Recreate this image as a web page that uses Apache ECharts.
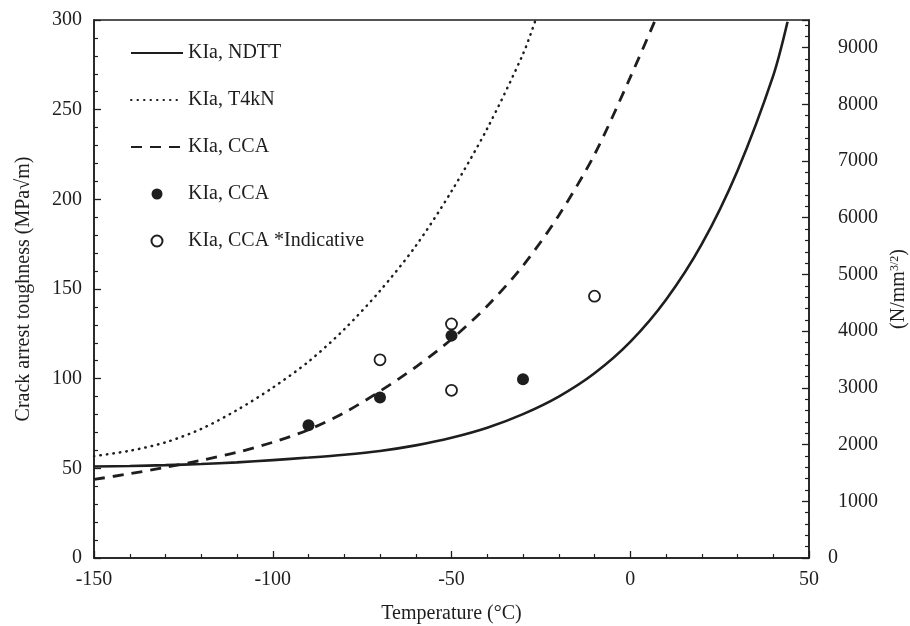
<!DOCTYPE html>
<html>
<head>
<meta charset="utf-8">
<script src="https://cdn.jsdelivr.net/npm/echarts@6/dist/echarts.min.js"></script>
<style>html,body{margin:0;padding:0;background:#fff}#c{width:910px;height:626px}</style>
</head>
<body>
<div id="c"></div>
<script>
// Temperature (°C) / KIa (MPa√m) readings from the reference
var ndtt = [[-150,51],[-140,51.3],[-130,51.8],[-120,52.4],[-110,53.3],[-100,54.6],[-90,56],[-80,57.6],[-70,59.7],[-60,62.8],[-50,67],[-40,72.6],[-30,80.2],[-20,90],[-10,103],[0,120.5],[10,144],[20,175],[30,216],[40,269],[44,299]];
var t4kn = [[-150,56.8],[-140,59.8],[-130,64.5],[-120,72],[-110,82.5],[-100,95],[-90,109.5],[-80,127.5],[-70,149],[-60,174],[-50,204.5],[-40,239.5],[-30,281],[-26.5,300]];
var ccaLine = [[-150,43.8],[-140,47],[-130,50.6],[-120,54.5],[-110,58.9],[-100,64.5],[-90,71.5],[-80,81],[-70,93],[-60,106.5],[-50,122],[-40,140.5],[-30,163],[-20,191],[-10,225],[0,268],[7,300]];
var ccaPts = [[-90,74],[-70,89.5],[-50,124],[-30,99.7]];
var ccaInd = [[-70,110.5],[-50,130.5],[-50,93.5],[-10,146]];
var legendLabels = {NDTT:'KIa, NDTT', T4kN:'KIa, T4kN', CCA_line:'KIa, CCA', CCA_pts:'KIa, CCA', CCA_ind:'KIa, CCA *Indicative'};
var FACTOR = 31.6228; // MPa√m -> N/mm^3/2

var font = 'Liberation Serif';
var ink = '#1e1e1e';
var chart = echarts.init(document.getElementById('c'), null, {renderer:'canvas'});
var axisCommon = {
  axisLine:{show:true, onZero:false, lineStyle:{color:ink, width:1.5}},
  axisTick:{show:true, inside:true, length:7, lineStyle:{color:ink, width:1.3}},
  minorTick:{show:true, splitNumber:5, length:4, lineStyle:{color:ink, width:1.2}},
  splitLine:{show:false},
  axisLabel:{color:ink, fontFamily:font, fontSize:20},
  nameTextStyle:{color:ink, fontFamily:font, fontSize:20}
};
var noSym = {opacity:0};
chart.setOption({
  animation:false,
  backgroundColor:'#fff',
  grid:{left:94, right:101, top:20, bottom:68, show:true, borderColor:ink, borderWidth:1.5, containLabel:false, outerBoundsMode:'none'},
  legend:{
    orient:'vertical', left:125, top:38, itemWidth:52, itemHeight:11, itemGap:27,
    textStyle:{color:ink, fontFamily:font, fontSize:20, lineHeight:20},
    formatter:function(n){return legendLabels[n];},
    data:[
      {name:'NDTT', itemStyle:noSym},
      {name:'T4kN', itemStyle:noSym},
      {name:'CCA_line', itemStyle:noSym},
      {name:'CCA_pts'},
      {name:'CCA_ind'}
    ]
  },
  xAxis:Object.assign({}, axisCommon, {
    type:'value', min:-150, max:50, interval:50,
    name:'Temperature (°C)', nameLocation:'middle', nameGap:46,
    axisLabel:Object.assign({}, axisCommon.axisLabel, {margin:12})
  }),
  yAxis:[
    Object.assign({}, axisCommon, {
      type:'value', min:0, max:300, interval:50, position:'left',
      name:'Crack arrest toughness (MPa√m)', nameLocation:'middle', nameGap:60,
      axisLabel:Object.assign({}, axisCommon.axisLabel, {margin:12})
    }),
    Object.assign({}, axisCommon, {
      type:'value', min:0, max:300*FACTOR, interval:1000, position:'right', alignTicks:false,
      name:'(N/mm{sup|3/2})', nameLocation:'middle', nameGap:75,
      nameTextStyle:Object.assign({}, axisCommon.nameTextStyle, {rich:{sup:{fontFamily:font, fontSize:12, color:ink, verticalAlign:'top', padding:[0,0,8,0]}}}),
      axisLabel:Object.assign({}, axisCommon.axisLabel, {
        margin:19,
        formatter:function(v){
          if (Math.abs(v % 1000) > 1e-6) return '';
          return v === 0 ? '{z|0}' : '{n|' + v + '}';
        },
        rich:{
          z:{fontFamily:font, fontSize:20, color:ink},
          n:{fontFamily:font, fontSize:20, color:ink, padding:[0,0,0,10]}
        }
      })
    })
  ],
  series:[
    {name:'NDTT', type:'line', data:ndtt, smooth:0.3, symbol:'none', clip:true, lineStyle:{color:ink, width:2.6}, itemStyle:{color:ink}, z:3},
    {name:'T4kN', type:'line', data:t4kn, smooth:0.3, symbol:'none', clip:true, lineStyle:{color:ink, width:2.5, type:[0.5,6], cap:'round'}, itemStyle:{color:ink}, z:3},
    {name:'CCA_line', type:'line', data:ccaLine, smooth:0.3, symbol:'none', clip:true, lineStyle:{color:ink, width:2.8, type:[11,8]}, itemStyle:{color:ink}, z:3},
    {name:'CCA_pts', type:'scatter', data:ccaPts, symbol:'circle', symbolSize:12, itemStyle:{color:ink, opacity:1}, z:4},
    {name:'CCA_ind', type:'scatter', data:ccaInd, symbol:'circle', symbolSize:11, itemStyle:{color:'#fff', borderColor:ink, borderWidth:1.8, opacity:1}, z:4}
  ]
});
</script>
</body>
</html>
